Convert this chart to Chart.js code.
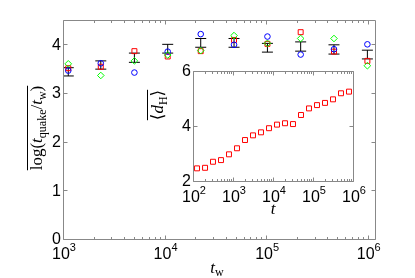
<!DOCTYPE html>
<html>
<head>
<meta charset="utf-8">
<script src="https://cdn.jsdelivr.net/npm/chart.js@4.4.1/dist/chart.umd.min.js"></script>
<style>
  html, body { margin: 0; padding: 0; background: #fff; }
  #wrap { position: relative; width: 415px; height: 278px; }
  #main { position: absolute; left: 0; top: 0; }
  #inset { position: absolute; left: 130px; top: 55px; }
</style>
</head>
<body>
<div id="wrap">
  <canvas id="main" width="415" height="278"></canvas>
  <canvas id="inset" width="240" height="175"></canvas>
</div>
<script>
// main plot: waiting times and the three runs
const tw = [1127, 2355, 5047, 10740, 22700, 48300, 103000, 218800, 465600, 993000];
const meanVal = [3.435, 3.575, 3.725, 3.91, 4.03, 4.03, 3.93, 3.955, 3.895, 3.79];
const errVal = [0.085, 0.085, 0.095, 0.09, 0.09, 0.09, 0.09, 0.095, 0.095, 0.09];
const blueRun = [3.46, 3.61, 3.42, 3.85, 4.21, 3.99, 4.16, 3.79, 3.90, 4.00];
const redRun = [3.51, 3.54, 3.86, 3.75, 3.86, 4.09, 4.01, 4.25, 3.85, 3.66];
const greenRun = [3.60, 3.36, 3.66, 3.78, 3.87, 4.18, 4.02, 4.12, 4.12, 3.56];

// inset: mean Hamming distance vs t
const tInset = [126, 200, 316, 501, 794, 1259, 1995, 3162, 5012, 7943,
  12589, 19953, 31623, 50119, 79433, 125893, 199526, 316228, 501187, 794328];
const dH = [2.46, 2.48, 2.70, 2.76, 2.97, 3.19, 3.49, 3.66, 3.77, 3.92,
  4.05, 4.10, 4.07, 4.40, 4.64, 4.76, 4.84, 4.97, 5.19, 5.25];

// tick labels
const mainXTicks = [3, 4, 5, 6];      // exponents of 10
const mainYTicks = [0, 1, 2, 3, 4];
const insetXTicks = [2, 3, 4, 5, 6];
const insetYTicks = [2, 4, 6];

const SANS = '"Liberation Sans", Arial, sans-serif';
const SERIF = '"Liberation Serif", "DejaVu Serif", serif';

function drawRich(ctx, parts, x, y, overline) {
  let w = 0;
  parts.forEach(p => { ctx.font = p.font; p.w = ctx.measureText(p.text).width; w += p.w; });
  let cx = x - w / 2;
  parts.forEach(p => {
    ctx.font = p.font;
    ctx.fillText(p.text, cx, y + (p.dy || 0));
    cx += p.w;
  });
  if (overline) ctx.fillRect(x - w / 2, y - overline, w, 1);
}

// matlab-like box, inward ticks and 10^k labels
const boxAxes = {
  id: 'boxAxes',
  beforeDatasetsDraw(chart) {
    const { ctx, chartArea: a } = chart;
    ctx.save();
    ctx.fillStyle = '#fff';
    ctx.fillRect(a.left, a.top, a.right - a.left, a.bottom - a.top);
    ctx.restore();
  },
  afterDraw(chart, args, o) {
    const { ctx, chartArea: a } = chart;
    const xs = chart.scales.x, ys = chart.scales.y;
    ctx.save();
    ctx.strokeStyle = '#888';
    ctx.lineWidth = 1;
    ctx.beginPath();
    const L = Math.round(a.left) + 0.5, R = Math.round(a.right) + 0.5;
    const T = Math.round(a.top) + 0.5, B = Math.round(a.bottom) + 0.5;
    ctx.rect(L, T, R - L, B - T);
    // x ticks (major + minor)
    o.xTicks.forEach(e => {
      for (let m = 1; m <= 9; m++) {
        const v = m * Math.pow(10, e);
        if (v < xs.min || v > xs.max) continue;
        const px = Math.round(xs.getPixelForValue(v)) + 0.5;
        const len = m === 1 ? 4 : 2.5;
        ctx.moveTo(px, B); ctx.lineTo(px, B - len);
        ctx.moveTo(px, T); ctx.lineTo(px, T + len);
      }
    });
    o.yTicks.forEach(v => {
      const py = Math.round(ys.getPixelForValue(v)) + 0.5;
      ctx.moveTo(L, py); ctx.lineTo(L + 4, py);
      ctx.moveTo(R, py); ctx.lineTo(R - 4, py);
    });
    ctx.stroke();

    ctx.fillStyle = '#000';
    // x tick labels
    o.xTicks.forEach(e => {
      const px = xs.getPixelForValue(Math.pow(10, e));
      ctx.font = '16px ' + SANS;
      const w1 = ctx.measureText('10').width;
      ctx.font = '11px ' + SANS;
      const w2 = ctx.measureText(String(e)).width;
      const x0 = px - (w1 + w2) / 2 + 1;
      ctx.textAlign = 'left';
      ctx.textBaseline = 'alphabetic';
      ctx.font = '16px ' + SANS;
      ctx.fillText('10', x0, a.bottom + o.xLabelDy);
      ctx.font = '11px ' + SANS;
      ctx.fillText(String(e), x0 + w1, a.bottom + o.xLabelDy - 8);
    });
    // y tick labels
    ctx.font = '16px ' + SANS;
    ctx.textAlign = 'right';
    ctx.textBaseline = 'middle';
    o.yTicks.forEach(v => {
      ctx.fillText(String(v), a.left - 2, ys.getPixelForValue(v) + 1);
    });

    // axis titles
    ctx.textAlign = 'left';
    ctx.textBaseline = 'alphabetic';
    drawRich(ctx, o.xTitle, o.xTitlePos[0], o.xTitlePos[1], 0);
    ctx.translate(o.yTitlePos[0], o.yTitlePos[1]);
    ctx.rotate(-Math.PI / 2);
    drawRich(ctx, o.yTitle, 0, 0, o.yOverline);
    ctx.restore();
  }
};

const hidden = {
  grid: { display: false },
  border: { display: false },
  ticks: { display: false }
};

// error bars: one stem per point plus caps drawn as 'line' points
const stems = tw.map((x, i) => ({
  type: 'line',
  data: [{ x: x, y: meanVal[i] - errVal[i] }, { x: x, y: meanVal[i] + errVal[i] }],
  borderColor: '#000',
  borderWidth: 1,
  pointRadius: 0,
  order: 10
}));
const caps = {
  data: tw.flatMap((x, i) => [{ x: x, y: meanVal[i] - errVal[i] }, { x: x, y: meanVal[i] + errVal[i] }]),
  pointStyle: 'line',
  pointRadius: 5.5,
  borderColor: '#000',
  borderWidth: 1,
  order: 9
};

function run(values, color, style, r, ord) {
  return {
    data: tw.map((x, i) => ({ x: x, y: values[i] })),
    pointStyle: style,
    pointRadius: r,
    borderColor: color,
    backgroundColor: 'rgba(0,0,0,0)',
    borderWidth: 1,
    order: ord
  };
}

new Chart(document.getElementById('main'), {
  type: 'scatter',
  data: {
    datasets: [
      run(redRun, '#ff0000', 'rect', 3.5, 3),
      run(blueRun, '#0000ff', 'circle', 2.8, 2),
      run(greenRun, '#00ff00', 'rectRot', 3.3, 1),
      caps
    ].concat(stems)
  },
  options: {
    responsive: false,
    animation: false,
    events: [],
    layout: { padding: { top: 20, right: 40, left: 0, bottom: 0 } },
    scales: {
      x: Object.assign({ type: 'logarithmic', min: 1000, max: 1.18e6,
        afterFit(s) { s.height = 39; } }, hidden),
      y: Object.assign({ type: 'linear', min: 0, max: 4.5,
        afterFit(s) { s.width = 63; } }, hidden)
    },
    plugins: {
      legend: { display: false },
      tooltip: { enabled: false },
      boxAxes: {
        xTicks: mainXTicks,
        yTicks: mainYTicks,
        xLabelDy: 20,
        xTitle: [
          { text: 't', font: 'italic 17px ' + SERIF },
          { text: 'w', font: '12px ' + SERIF, dy: 3 }
        ],
        xTitlePos: [217, 273],
        yTitle: [
          { text: 'log(', font: '17px ' + SERIF },
          { text: 't', font: 'italic 17px ' + SERIF },
          { text: 'quake', font: '12px ' + SERIF, dy: 4 },
          { text: '/', font: '17px ' + SERIF },
          { text: 't', font: 'italic 17px ' + SERIF },
          { text: 'w', font: '12px ' + SERIF, dy: 4 },
          { text: ')', font: '17px ' + SERIF }
        ],
        yTitlePos: [42, 128],
        yOverline: 15
      }
    }
  },
  plugins: [boxAxes]
});

new Chart(document.getElementById('inset'), {
  type: 'scatter',
  data: {
    datasets: [{
      data: tInset.map((x, i) => ({ x: x, y: dH[i] })),
      pointStyle: 'rect',
      pointRadius: 3.5,
      borderColor: '#ff0000',
      backgroundColor: 'rgba(0,0,0,0)',
      borderWidth: 1
    }]
  },
  options: {
    responsive: false,
    animation: false,
    events: [],
    layout: { padding: { top: 16, right: 17, left: 0, bottom: 0 } },
    scales: {
      x: Object.assign({ type: 'logarithmic', min: 100, max: 1e6,
        afterFit(s) { s.height = 49; } }, hidden),
      y: Object.assign({ type: 'linear', min: 2, max: 6,
        afterFit(s) { s.width = 63; } }, hidden)
    },
    plugins: {
      legend: { display: false },
      tooltip: { enabled: false },
      boxAxes: {
        xTicks: insetXTicks,
        yTicks: insetYTicks,
        xLabelDy: 21,
        xTitle: [{ text: 't', font: 'italic 17px ' + SERIF }],
        xTitlePos: [143, 159],
        yTitle: [
          { text: '\u27E8', font: '17px ' + SERIF },
          { text: 'd', font: 'italic 17px ' + SERIF },
          { text: 'H', font: '12px ' + SERIF, dy: 4 },
          { text: '\u27E9', font: '17px ' + SERIF }
        ],
        yTitlePos: [33, 50],
        yOverline: 16
      }
    }
  },
  plugins: [boxAxes]
});
</script>
</body>
</html>
